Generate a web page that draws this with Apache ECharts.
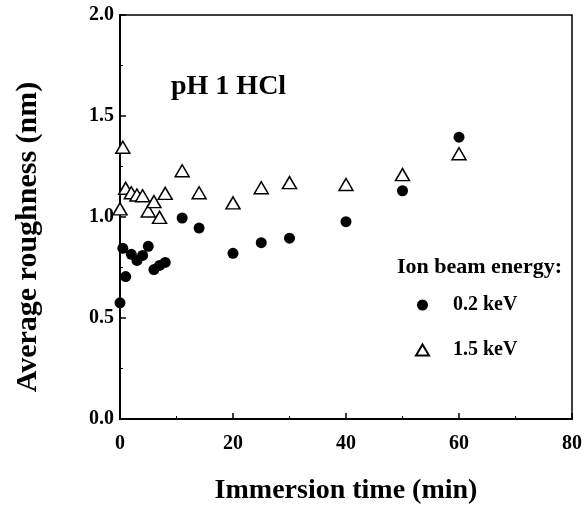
<!DOCTYPE html>
<html>
<head>
<meta charset="utf-8">
<script src="https://cdn.jsdelivr.net/npm/echarts@6/dist/echarts.min.js"></script>
<style>
  html, body { margin: 0; padding: 0; background: #fff; }
  #chart { width: 585px; height: 510px; }
</style>
</head>
<body>
<div id="chart"></div>
<script>
// 0.2 keV 数据
var time02 = [0, 0.5, 1, 2, 3, 4, 5, 6, 7, 8, 11, 14, 20, 25, 30, 40, 50, 60];
var rough02 = [0.575, 0.845, 0.705, 0.815, 0.785, 0.81, 0.855, 0.74, 0.76, 0.775, 0.995, 0.945, 0.82, 0.873, 0.895, 0.977, 1.13, 1.395];
// 1.5 keV 数据
var time15 = [0, 0.5, 1, 2, 3, 4, 5, 6, 7, 8, 11, 14, 20, 25, 30, 40, 50, 60];
var rough15 = [1.04, 1.345, 1.142, 1.12, 1.109, 1.105, 1.03, 1.076, 0.998, 1.117, 1.229, 1.12, 1.07, 1.145, 1.17, 1.161, 1.21, 1.313];

var seriesNames = ['0.2 keV', '1.5 keV'];
var xTicks = [0, 20, 40, 60, 80];

function pairs(xs, ys) {
    return xs.map(function (x, i) { return [x, ys[i]]; });
}

var font = 'Liberation Serif';
var myChart = echarts.init(document.getElementById('chart'));

var option = {
    animation: false,
    backgroundColor: '#fff',
    grid: {
        left: 120, right: 13, top: 15, bottom: 91,
        show: true, borderColor: '#000', borderWidth: 1.5
    },
    title: {
        text: 'pH 1 HCl',
        left: 166, top: 68,
        textStyle: { fontFamily: font, fontWeight: 'bold', fontSize: 28, color: '#000' }
    },
    graphic: [{
        type: 'text',
        left: 397, top: 256,
        style: { text: 'Ion beam energy:', fontFamily: font, fontWeight: 'bold', fontSize: 22, fill: '#000' }
    }, {
        // y 轴标题
        type: 'text',
        x: 28, y: 237,
        rotation: Math.PI / 2,
        style: {
            text: 'Average roughness (nm)', fontFamily: font, fontWeight: 'bold', fontSize: 30,
            fill: '#000', align: 'center', verticalAlign: 'middle'
        }
    }],
    legend: {
        orient: 'vertical',
        left: 410, top: 290,
        itemWidth: 13, itemHeight: 11,
        itemGap: 25,
        data: seriesNames,
        textStyle: { fontFamily: font, fontWeight: 'bold', fontSize: 20, color: '#000', padding: [0, 0, 0, 19] }
    },
    xAxis: {
        type: 'value',
        min: 0, max: 80, interval: 20,
        name: 'Immersion time (min)',
        nameLocation: 'middle',
        nameGap: 58,
        nameTextStyle: { fontFamily: font, fontWeight: 'bold', fontSize: 28, color: '#000' },
        axisLine: { lineStyle: { color: '#000', width: 2 } },
        axisTick: { inside: true, length: 6, lineStyle: { color: '#000', width: 1.5 } },
        minorTick: { show: true, splitNumber: 2, length: 3, lineStyle: { color: '#000' } },
        splitLine: { show: false },
        axisLabel: {
            margin: 15,
            fontFamily: font, fontWeight: 'bold', fontSize: 20, color: '#000',
            formatter: function (v) { return xTicks.indexOf(v) >= 0 ? String(v) : ''; }
        }
    },
    yAxis: {
        type: 'value',
        min: 0, max: 2, interval: 0.5,
        axisLine: { lineStyle: { color: '#000', width: 2 } },
        axisTick: { inside: true, length: 6, lineStyle: { color: '#000', width: 1.5 } },
        minorTick: { show: true, splitNumber: 2, length: 3, lineStyle: { color: '#000' } },
        splitLine: { show: false },
        axisLabel: {
            margin: 6,
            fontFamily: font, fontWeight: 'bold', fontSize: 20, color: '#000',
            formatter: function (v) { return v.toFixed(1); }
        }
    },
    series: [{
        name: seriesNames[0],
        type: 'scatter',
        symbol: 'circle',
        symbolSize: 11,
        itemStyle: { color: '#000', opacity: 1 },
        data: pairs(time02, rough02)
    }, {
        name: seriesNames[1],
        type: 'scatter',
        symbol: 'triangle',
        symbolSize: [14, 12],
        itemStyle: { color: '#fff', borderColor: '#000', borderWidth: 1.5, opacity: 1 },
        data: pairs(time15, rough15)
    }]
};

myChart.setOption(option);
</script>
</body>
</html>
